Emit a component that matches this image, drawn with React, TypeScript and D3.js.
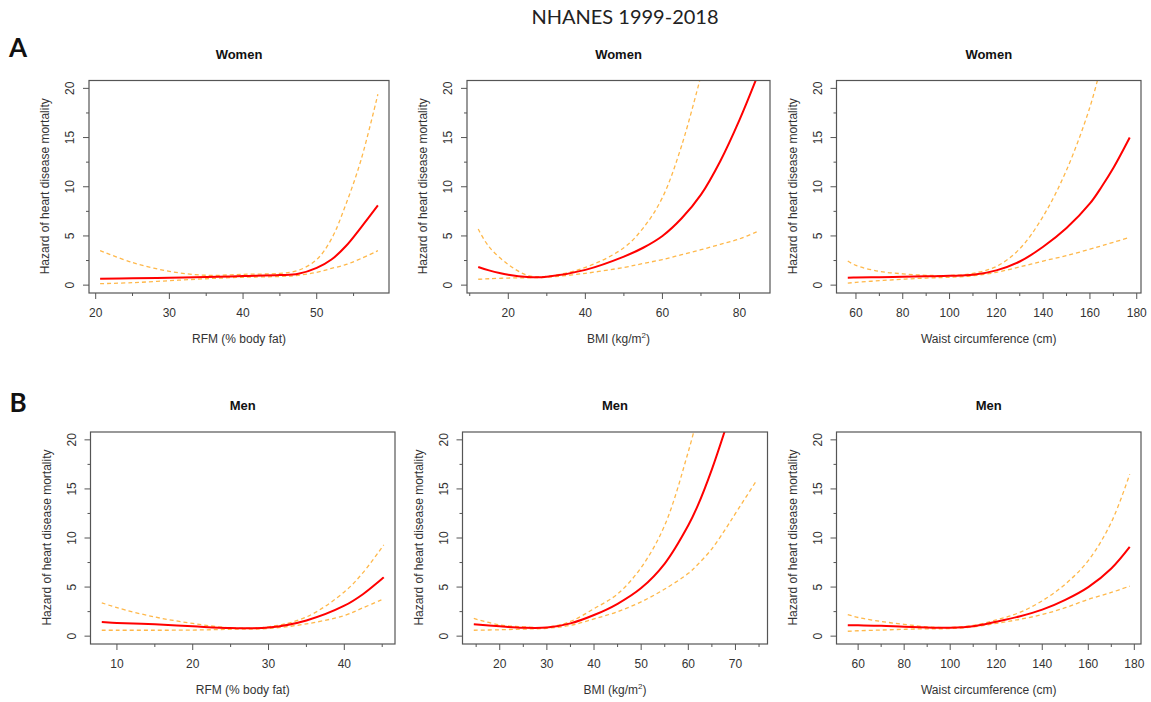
import * as d3 from 'd3'

// ---- data (hazard ratio, fitted + 95% CI) ----
// Women, RFM
const rfmWomenX = [20.6, 25, 30, 35, 40, 45, 47.5, 50, 52, 54, 56, 58.3]
const rfmWomenFit = [0.65, 0.7, 0.75, 0.82, 0.92, 1.02, 1.15, 1.75, 2.6, 4.0, 5.85, 8.1]
const rfmWomenHi = [3.5, 2.3, 1.4, 1.0, 1.1, 1.2, 1.5, 2.6, 4.7, 8.3, 12.7, 19.4]
const rfmWomenLo = [0.15, 0.25, 0.45, 0.65, 0.8, 0.88, 1.0, 1.3, 1.7, 2.1, 2.7, 3.5]

// Women, BMI
const bmiWomenX = [12.2, 15, 20, 25, 30, 40, 50, 55, 60, 65, 70, 75, 80, 85]
const bmiWomenFit = [1.84, 1.5, 1.05, 0.82, 0.85, 1.55, 2.9, 3.8, 5.0, 6.8, 9.2, 12.6, 16.8, 21.6]
const bmiWomenHi = [5.7, 3.9, 2.1, 1.0, 0.9, 1.8, 3.8, 5.8, 8.9, 14.2, 21.3, null, null, null]
const bmiWomenLo = [0.6, 0.65, 0.72, 0.75, 0.8, 1.2, 1.8, 2.2, 2.6, 3.1, 3.6, 4.15, 4.7, 5.5]

// Women, waist
const waistWomenX = [56.5, 60, 70, 80, 90, 100, 110, 120, 130, 140, 150, 160, 165, 170, 177]
const waistWomenFit = [0.75, 0.77, 0.8, 0.85, 0.9, 0.95, 1.05, 1.5, 2.4, 3.9, 5.8, 8.3, 10.0, 11.9, 15.0]
const waistWomenHi = [2.45, 2.0, 1.4, 1.15, 1.0, 0.98, 1.2, 1.9, 3.7, 7.0, 11.7, 18.1, 22.5, null, null]
const waistWomenLo = [0.2, 0.28, 0.45, 0.6, 0.72, 0.8, 0.95, 1.3, 1.85, 2.45, 3.0, 3.65, 4.0, 4.35, 4.85]

// Men, RFM
const rfmMenX = [8, 10, 15, 20, 25, 30, 35, 40, 42.5, 45.2]
const rfmMenFit = [1.43, 1.35, 1.2, 1.0, 0.82, 0.87, 1.6, 3.1, 4.3, 6.0]
const rfmMenHi = [3.4, 2.9, 1.95, 1.3, 0.85, 0.95, 1.95, 4.5, 6.5, 9.3]
const rfmMenLo = [0.6, 0.6, 0.6, 0.62, 0.7, 0.78, 1.25, 2.1, 2.9, 3.8]

// Men, BMI
const bmiMenX = [14.5, 20, 25, 30, 35, 40, 45, 50, 55, 60, 62, 65, 68, 70, 74.4]
const bmiMenFit = [1.2, 1.0, 0.85, 0.87, 1.3, 2.15, 3.3, 4.9, 7.4, 11.3, 13.3, 17.0, 21.3, null, null]
const bmiMenHi = [1.8, 1.15, 0.95, 0.9, 1.5, 2.8, 4.3, 7.0, 11.3, 18.8, 22.4, null, null, null, null]
const bmiMenLo = [0.6, 0.65, 0.72, 0.8, 1.1, 1.75, 2.5, 3.5, 4.8, 6.4, 7.3, 8.9, 11.0, 12.5, 15.8]

// Men, waist
const waistMenX = [55.5, 60, 70, 80, 90, 100, 110, 120, 130, 140, 150, 160, 170, 178]
const waistMenFit = [1.12, 1.1, 1.05, 0.95, 0.88, 0.85, 1.0, 1.47, 2.0, 2.7, 3.7, 5.0, 6.9, 9.1]
const waistMenHi = [2.2, 1.9, 1.5, 1.2, 0.95, 0.88, 1.1, 1.65, 2.4, 3.6, 5.3, 7.7, 11.6, 16.5]
const waistMenLo = [0.5, 0.55, 0.62, 0.7, 0.75, 0.77, 0.95, 1.3, 1.7, 2.2, 2.9, 3.75, 4.45, 5.1]

// ticks
const yTicks = [0, 5, 10, 15, 20]
const rfmWomenTicks = [20, 30, 40, 50]
const rfmMenTicks = [10, 20, 30, 40]
const bmiWomenTicks = [20, 40, 60, 80]
const bmiMenTicks = [20, 30, 40, 50, 60, 70]
const waistTicks = [60, 80, 100, 120, 140, 160, 180]

const W = 1151
const H = 702

type Panel = {
  title: string
  xLabel: 'rfm' | 'bmi' | 'waist'
  x: number[]
  fit: (number | null)[]
  hi: (number | null)[]
  lo: (number | null)[]
  ticks: number[]
  minorStep: number
  box: [number, number, number, number] // left, top, right, bottom
}

const panels: Panel[] = [
  { title: 'Women', xLabel: 'rfm', x: rfmWomenX, fit: rfmWomenFit, hi: rfmWomenHi, lo: rfmWomenLo, ticks: rfmWomenTicks, minorStep: 5, box: [89, 80.5, 389, 293] },
  { title: 'Women', xLabel: 'bmi', x: bmiWomenX, fit: bmiWomenFit, hi: bmiWomenHi, lo: bmiWomenLo, ticks: bmiWomenTicks, minorStep: 10, box: [467, 80.5, 770, 293] },
  { title: 'Women', xLabel: 'waist', x: waistWomenX, fit: waistWomenFit, hi: waistWomenHi, lo: waistWomenLo, ticks: waistTicks, minorStep: 10, box: [836.5, 80.5, 1141, 293] },
  { title: 'Men', xLabel: 'rfm', x: rfmMenX, fit: rfmMenFit, hi: rfmMenHi, lo: rfmMenLo, ticks: rfmMenTicks, minorStep: 5, box: [90.5, 432, 395, 644] },
  { title: 'Men', xLabel: 'bmi', x: bmiMenX, fit: bmiMenFit, hi: bmiMenHi, lo: bmiMenLo, ticks: bmiMenTicks, minorStep: 5, box: [462.5, 432, 767.5, 644] },
  { title: 'Men', xLabel: 'waist', x: waistMenX, fit: waistMenFit, hi: waistMenHi, lo: waistMenLo, ticks: waistTicks, minorStep: 10, box: [836.5, 432, 1141, 644] },
]

const plotFont = '"Liberation Sans", Arial, sans-serif'
const axisColor = '#555'
const textColor = '#333'

function XLabel({ kind, x, y }: { kind: string; x: number; y: number }) {
  if (kind === 'bmi') {
    return (
      <text x={x} y={y} textAnchor="middle" dy="0.35em" fontSize={12} fill={textColor} fontFamily={plotFont}>
        BMI (kg/m<tspan dy={-5} fontSize={8}>2</tspan><tspan dy={5}>)</tspan>
      </text>
    )
  }
  const label = kind === 'rfm' ? 'RFM (% body fat)' : 'Waist circumference (cm)'
  return (
    <text x={x} y={y} textAnchor="middle" dy="0.35em" fontSize={12} fill={textColor} fontFamily={plotFont}>
      {label}
    </text>
  )
}

function PanelView({ p, i }: { p: Panel; i: number }) {
  const [l, t, r, b] = p.box
  const [x0, x1] = d3.extent(p.x) as [number, number]
  const pad = (x1 - x0) * 0.04
  const xs = d3.scaleLinear().domain([x0 - pad, x1 + pad]).range([l, r])
  const ys = d3.scaleLinear().domain([-0.8, 20.8]).range([b, t])

  const mk = (vals: (number | null)[]) =>
    d3.line<number>()
      .defined((_, k) => vals[k] !== null)
      .x((v) => xs(v))
      .y((_, k) => ys(vals[k] as number))
      .curve(d3.curveCatmullRom.alpha(0.5))(p.x)

  const [d0, d1] = xs.domain()
  const minor = d3.range(Math.ceil(d0 / p.minorStep) * p.minorStep, d1 + 1e-9, p.minorStep)
  const yMinor = d3.range(0, 20.01, 2.5)
  const cx = (l + r) / 2
  const clipId = `clip-${i}`

  return (
    <g>
      <defs>
        <clipPath id={clipId}>
          <rect x={l} y={t} width={r - l} height={b - t} />
        </clipPath>
      </defs>
      <text x={cx} y={t - 26.5} dy="0.35em" textAnchor="middle" fontWeight="bold" fontSize={13} fontFamily={plotFont} fill="#111">
        {p.title}
      </text>
      <g clipPath={`url(#${clipId})`} fill="none">
        <path d={mk(p.hi) || ''} stroke="#FFB84A" strokeWidth={1.3} strokeDasharray="4,3" />
        <path d={mk(p.lo) || ''} stroke="#FFB84A" strokeWidth={1.3} strokeDasharray="4,3" />
        <path d={mk(p.fit) || ''} stroke="#FF0000" strokeWidth={2} />
      </g>
      <rect x={l} y={t} width={r - l} height={b - t} fill="none" stroke={axisColor} strokeWidth={1.2} />
      {/* x axis */}
      {minor.map((v) => {
        const major = p.ticks.includes(v)
        return <line key={'xm' + v} x1={xs(v)} x2={xs(v)} y1={b} y2={b + (major ? 6 : 3)} stroke={axisColor} strokeWidth={1} />
      })}
      {p.ticks.map((v) => (
        <text key={'xt' + v} x={xs(v)} y={b + 20} dy="0.35em" textAnchor="middle" fontSize={12} fontFamily={plotFont} fill={textColor}>
          {v}
        </text>
      ))}
      <XLabel kind={p.xLabel} x={cx} y={b + 45.5} />
      {/* y axis */}
      {yMinor.map((v) => {
        const major = yTicks.includes(v)
        return <line key={'ym' + v} x1={l} x2={l - (major ? 6 : 3)} y1={ys(v)} y2={ys(v)} stroke={axisColor} strokeWidth={1} />
      })}
      {yTicks.map((v) => (
        <text key={'yt' + v} transform={`translate(${l - 19},${ys(v)}) rotate(-90)`} dy="0.35em" textAnchor="middle" fontSize={12} fontFamily={plotFont} fill={textColor}>
          {v}
        </text>
      ))}
      <text transform={`translate(${l - 44},${(t + b) / 2 - 0.5}) rotate(-90)`} dy="0.35em" textAnchor="middle" fontSize={12} fontFamily={plotFont} fill={textColor}>
        Hazard of heart disease mortality
      </text>
    </g>
  )
}

export default function App() {
  return (
    <svg width={W} height={H} viewBox={`0 0 ${W} ${H}`} style={{ position: 'absolute', left: 0, top: 0, display: 'block', background: '#fff' }}>
      <rect width={W} height={H} fill="#fff" />
      <text x={625} y={17} dy="0.35em" textAnchor="middle" fontSize={20} fontFamily='Lato, "Open Sans", sans-serif' fill="#222">
        NHANES 1999-2018
      </text>
      <text x={18} y={48} dy="0.35em" textAnchor="middle" fontSize={26} fontWeight="bold" fontFamily='Lato, "Liberation Sans", sans-serif' fill="#111">A</text>
      <text x={18} y={403} dy="0.35em" textAnchor="middle" fontSize={26} fontWeight="bold" fontFamily='Lato, "Liberation Sans", sans-serif' fill="#111">B</text>
      {panels.map((p, i) => (
        <PanelView key={i} p={p} i={i} />
      ))}
    </svg>
  )
}
